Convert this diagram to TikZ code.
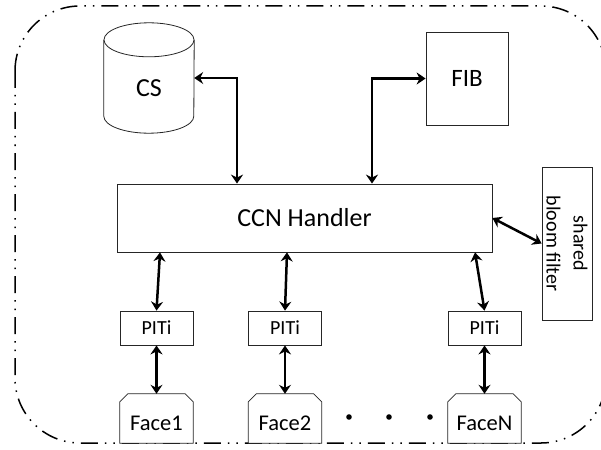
\documentclass[tikz,border=0pt]{standalone}
\usepackage{fontspec}
\setmainfont{Carlito}
\usetikzlibrary{arrows.meta,calc}
\pgfdeclarelayer{bgg}
\pgfsetlayers{bgg,main}
\tikzset{
  box/.style={draw=black!85, line width=0.8pt, fill=white, inner sep=0pt},
  outline/.style={draw=black!85, line width=0.8pt, fill=white},
  facebox/.style={inner sep=0pt, minimum width=73pt, minimum height=49pt},
  pitbox/.style={box, minimum width=73pt, minimum height=34pt, font=\fontsize{20}{24}\selectfont},
  txt/.style={inner sep=0pt},
  arr/.style={line width=2.5pt, {Stealth[length=9pt,width=12pt,inset=3pt]}-{Stealth[length=9pt,width=12pt,inset=3pt]}},
  frame/.style={line width=1.5pt, rounded corners=65pt, dash pattern=on 17pt off 7pt on 1.5pt off 7pt on 1.5pt off 7pt},
  facetxt/.style={inner sep=0pt, font=\fontsize{22.5}{26}\selectfont}
}
\begin{document}
\begin{tikzpicture}[x=1pt,y=-1pt]
\useasboundingbox (0,0) rectangle (601,449);
% outer border
\begin{pgfonlayer}{bgg}
\draw[frame] (15,6) rectangle (606,443);
\end{pgfonlayer}

% CS cylinder
\node[txt, minimum width=90pt, minimum height=110pt] (cs) at (149,78) {};
\draw[outline]
  ([yshift=-17pt]cs.north west) -- ([yshift=17pt]cs.south west)
  arc[start angle=180, end angle=360, x radius=45pt, y radius=17pt]
  -- ([yshift=-17pt]cs.north east);
\draw[outline] ([yshift=-17pt]cs.north) ellipse[x radius=45pt, y radius=17pt];
\node[txt, font=\fontsize{26}{30}\selectfont] (cst) at (149,88) {CS};

% FIB
\node[box, minimum width=82pt, minimum height=93pt, font=\fontsize{25}{30}\selectfont] (fib) at (467,78.5) {FIB};

% CCN Handler
\node[box, minimum width=375pt, minimum height=68pt, font=\fontsize{26}{30}\selectfont] (ccn) at (304.5,218) {CCN Handler};

% shared bloom filter
\node[box, minimum width=50pt, minimum height=153pt] (bf) at (567,243.5) {};
\node[txt, rotate=-90, align=center, font=\fontsize{20}{27}\selectfont] (bft) at (bf.center) {shared\\bloom filter};

% PITi boxes
\node[pitbox] (p1) at (156.5,328) {PITi};
\node[pitbox] (p2) at (285,328) {PITi};
\node[pitbox] (p3) at (484.5,328) {PITi};

% Faces
\foreach \n/\x/\t in {f1/156.5/Face1, f2/285/Face2, f3/484.5/FaceN}{
  \node[facebox] (\n) at (\x,418.5) {};
  \draw[outline] (\n.south west) -- ([yshift=-8pt]\n.north west) -- ([xshift=8pt]\n.north west)
    -- ([xshift=-8pt]\n.north east) -- ([yshift=-8pt]\n.north east) -- (\n.south east) -- cycle;
  \node[facetxt] (\n t) at (\x,423) {\t};
}

% dots
\fill (349,417) circle (2.8pt) coordinate (d1);
\fill (389,417) circle (2.8pt) coordinate (d2);
\fill (430,417) circle (2.8pt) coordinate (d3);

% connectors
\draw[arr] (cs.east) -| ([xshift=-67.5pt]ccn.north);
\draw[arr] (fib.west) -| ([xshift=67.5pt]ccn.north);
\draw[arr] (ccn.east) -- (bf.west);
\draw[arr] ([xshift=3.5pt]p1.north |- ccn.south) -- (p1.north);
\draw[arr] ([xshift=2pt]p2.north |- ccn.south) -- (p2.north);
\draw[arr] ([xshift=-9.5pt]p3.north |- ccn.south) -- (p3.north);
\draw[arr] (p1.south) -- (f1.north);
\draw[arr] (p2.south) -- (f2.north);
\draw[arr] (p3.south) -- (f3.north);
\end{tikzpicture}
\end{document}
